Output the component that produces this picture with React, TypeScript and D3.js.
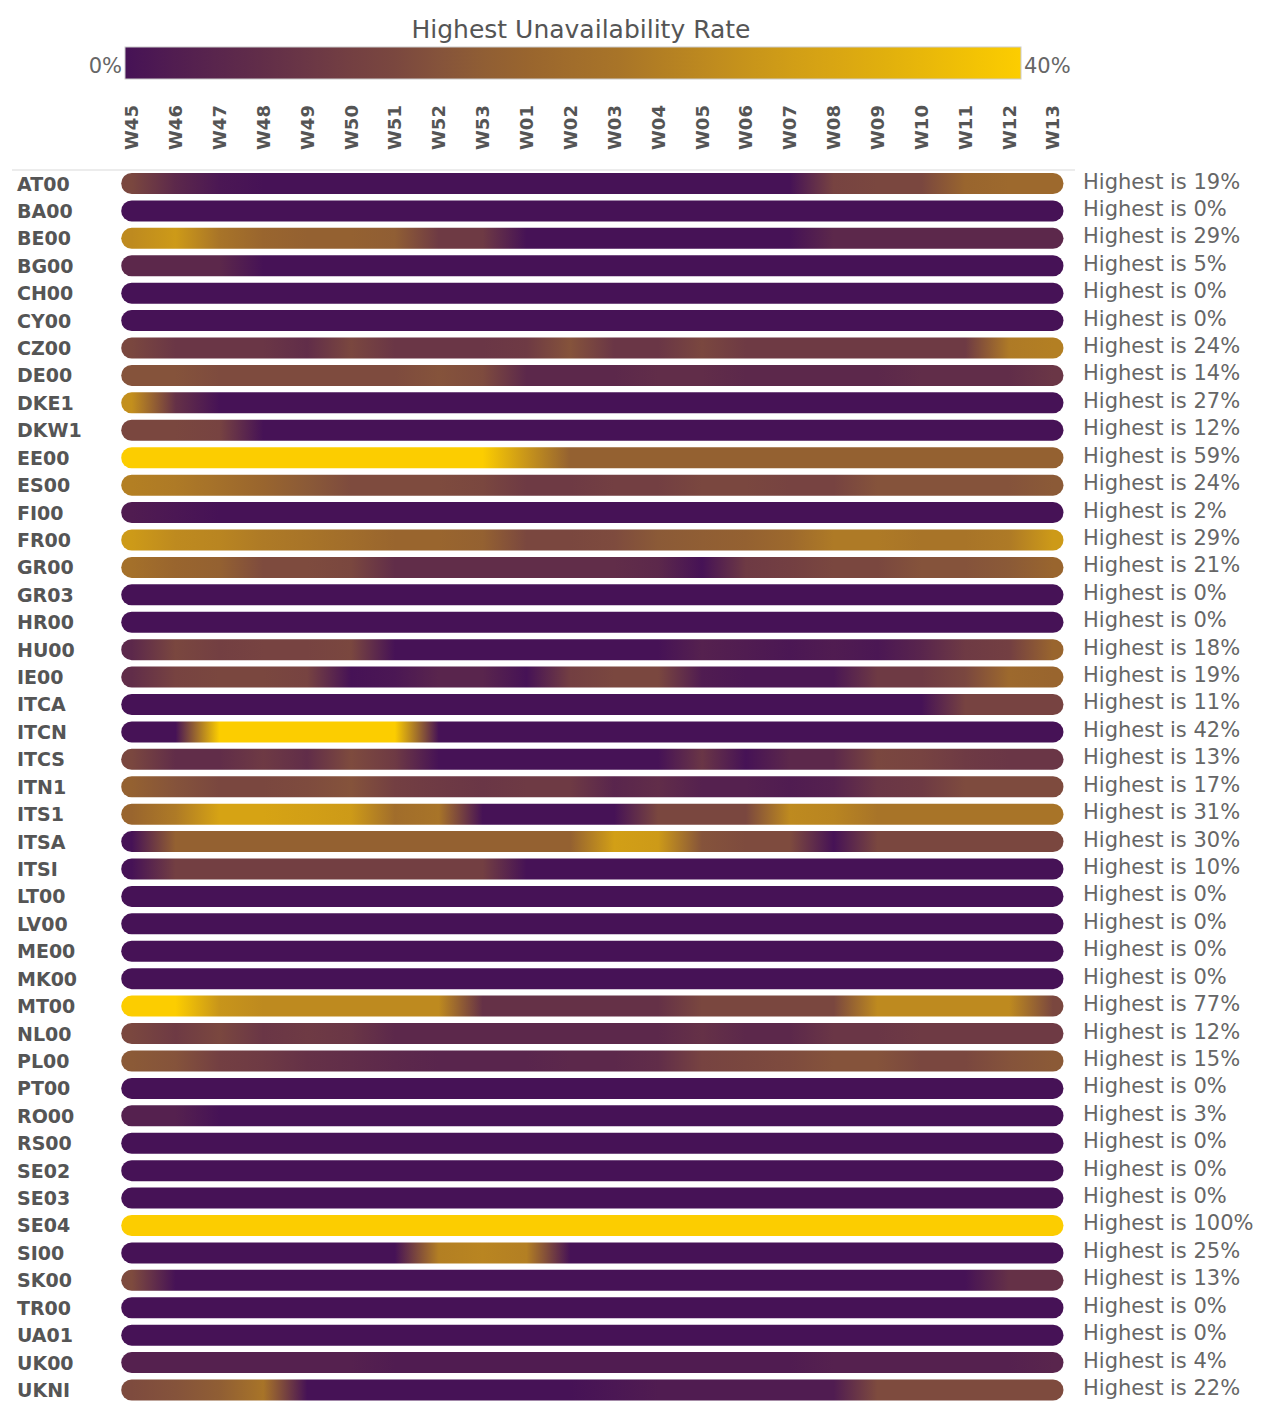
import * as d3 from "d3";

const weeks = [
  "W45", "W46", "W47", "W48", "W49", "W50", "W51", "W52", "W53", "W01", "W02",
  "W03", "W04", "W05", "W06", "W07", "W08", "W09", "W10", "W11", "W12", "W13",
];

const countries = [
  "AT00", "BA00", "BE00", "BG00", "CH00", "CY00", "CZ00", "DE00", "DKE1", "DKW1",
  "EE00", "ES00", "FI00", "FR00", "GR00", "GR03", "HR00", "HU00", "IE00", "ITCA",
  "ITCN", "ITCS", "ITN1", "ITS1", "ITSA", "ITSI", "LT00", "LV00", "ME00", "MK00",
  "MT00", "NL00", "PL00", "PT00", "RO00", "RS00", "SE02", "SE03", "SE04", "SI00",
  "SK00", "TR00", "UA01", "UK00", "UKNI",
];

// unavailability rate (%) per country (rows, same order as countries) and week
const rates: number[][] = [
  [12, 5, 1, 0, 0, 0, 0, 0, 0, 0, 0, 0, 0, 0, 0, 0, 11, 12, 12, 18, 19, 19], // AT00
  [0, 0, 0, 0, 0, 0, 0, 0, 0, 0, 0, 0, 0, 0, 0, 0, 0, 0, 0, 0, 0, 0], // BA00
  [26, 29, 22, 18, 17, 17, 16, 9, 9, 0, 0, 0, 0, 0, 0, 0, 5, 5, 5, 5, 5, 5], // BE00
  [5, 5, 5, 0, 0, 0, 0, 0, 0, 0, 0, 0, 0, 0, 0, 0, 0, 0, 0, 0, 0, 0], // BG00
  [0, 0, 0, 0, 0, 0, 0, 0, 0, 0, 0, 0, 0, 0, 0, 0, 0, 0, 0, 0, 0, 0], // CH00
  [0, 0, 0, 0, 0, 0, 0, 0, 0, 0, 0, 0, 0, 0, 0, 0, 0, 0, 0, 0, 0, 0], // CY00
  [12, 8, 8, 8, 6, 12, 8, 8, 8, 9, 14, 8, 8, 12, 9, 9, 9, 9, 9, 9, 23, 24], // CZ00
  [14, 14, 13, 13, 13, 13, 13, 14, 13, 5, 5, 5, 6, 6, 5, 5, 5, 5, 6, 6, 6, 8], // DE00
  [27, 7, 0, 0, 0, 0, 0, 0, 0, 0, 0, 0, 0, 0, 0, 0, 0, 0, 0, 0, 0, 0], // DKE1
  [12, 12, 11, 0, 0, 0, 0, 0, 0, 0, 0, 0, 0, 0, 0, 0, 0, 0, 0, 0, 0, 0], // DKW1
  [45, 50, 59, 52, 48, 44, 46, 42, 41, 28, 17, 17, 17, 17, 17, 17, 17, 17, 17, 17, 17, 17], // EE00
  [24, 23, 21, 18, 15, 13, 13, 13, 12, 9, 9, 10, 10, 12, 12, 11, 11, 14, 14, 14, 14, 15], // ES00
  [2, 1, 0, 0, 0, 0, 0, 0, 0, 0, 0, 0, 0, 0, 0, 0, 0, 0, 0, 0, 0, 0], // FI00
  [29, 26, 25, 23, 22, 20, 18, 18, 17, 12, 12, 13, 15, 16, 17, 19, 23, 23, 22, 22, 23, 29], // FR00
  [21, 18, 17, 13, 13, 12, 6, 6, 6, 6, 6, 6, 5, 0, 9, 10, 12, 12, 14, 14, 15, 18], // GR00
  [0, 0, 0, 0, 0, 0, 0, 0, 0, 0, 0, 0, 0, 0, 0, 0, 0, 0, 0, 0, 0, 0], // GR03
  [0, 0, 0, 0, 0, 0, 0, 0, 0, 0, 0, 0, 0, 0, 0, 0, 0, 0, 0, 0, 0, 0], // HR00
  [5, 12, 10, 11, 11, 12, 0, 0, 0, 0, 0, 0, 0, 3, 2, 1, 2, 1, 4, 9, 10, 18], // HU00
  [6, 11, 12, 12, 11, 0, 1, 4, 4, 0, 10, 12, 12, 2, 1, 1, 1, 9, 9, 12, 19, 18], // IE00
  [0, 0, 0, 0, 0, 0, 0, 0, 0, 0, 0, 0, 0, 0, 0, 0, 0, 0, 0, 11, 11, 11], // ITCA
  [0, 0, 41, 42, 40, 41, 40, 0, 0, 0, 0, 0, 0, 0, 0, 0, 0, 0, 0, 0, 0, 0], // ITCN
  [12, 6, 6, 9, 6, 13, 9, 0, 0, 0, 0, 0, 0, 8, 0, 5, 5, 12, 11, 9, 8, 8], // ITCS
  [17, 14, 12, 12, 13, 14, 10, 9, 8, 9, 9, 4, 6, 3, 3, 2, 3, 8, 9, 13, 13, 13], // ITN1
  [18, 23, 31, 31, 30, 29, 20, 22, 0, 0, 0, 0, 12, 12, 12, 26, 25, 22, 22, 22, 22, 22], // ITS1
  [0, 17, 17, 17, 17, 17, 17, 17, 17, 17, 17, 30, 29, 14, 13, 13, 0, 12, 12, 12, 12, 12], // ITSA
  [0, 10, 10, 10, 10, 10, 10, 10, 10, 0, 0, 0, 0, 0, 0, 0, 0, 0, 0, 0, 0, 0], // ITSI
  [0, 0, 0, 0, 0, 0, 0, 0, 0, 0, 0, 0, 0, 0, 0, 0, 0, 0, 0, 0, 0, 0], // LT00
  [0, 0, 0, 0, 0, 0, 0, 0, 0, 0, 0, 0, 0, 0, 0, 0, 0, 0, 0, 0, 0, 0], // LV00
  [0, 0, 0, 0, 0, 0, 0, 0, 0, 0, 0, 0, 0, 0, 0, 0, 0, 0, 0, 0, 0, 0], // ME00
  [0, 0, 0, 0, 0, 0, 0, 0, 0, 0, 0, 0, 0, 0, 0, 0, 0, 0, 0, 0, 0, 0], // MK00
  [77, 40, 28, 26, 26, 26, 26, 26, 7, 7, 7, 7, 7, 12, 12, 12, 12, 26, 26, 26, 26, 12], // MT00
  [12, 9, 12, 8, 9, 8, 5, 5, 5, 5, 5, 5, 5, 7, 5, 5, 8, 8, 9, 9, 9, 9], // NL00
  [15, 14, 10, 9, 7, 6, 5, 4, 4, 4, 5, 5, 6, 11, 12, 13, 14, 14, 12, 12, 14, 15], // PL00
  [0, 0, 0, 0, 0, 0, 0, 0, 0, 0, 0, 0, 0, 0, 0, 0, 0, 0, 0, 0, 0, 0], // PT00
  [3, 3, 0, 0, 0, 0, 0, 0, 0, 0, 0, 0, 0, 0, 0, 0, 0, 0, 0, 0, 0, 0], // RO00
  [0, 0, 0, 0, 0, 0, 0, 0, 0, 0, 0, 0, 0, 0, 0, 0, 0, 0, 0, 0, 0, 0], // RS00
  [0, 0, 0, 0, 0, 0, 0, 0, 0, 0, 0, 0, 0, 0, 0, 0, 0, 0, 0, 0, 0, 0], // SE02
  [0, 0, 0, 0, 0, 0, 0, 0, 0, 0, 0, 0, 0, 0, 0, 0, 0, 0, 0, 0, 0, 0], // SE03
  [100, 100, 100, 100, 100, 100, 100, 100, 100, 100, 100, 100, 100, 100, 100, 100, 100, 100, 100, 100, 100, 100], // SE04
  [0, 0, 0, 0, 0, 0, 0, 24, 25, 24, 0, 0, 0, 0, 0, 0, 0, 0, 0, 0, 0, 0], // SI00
  [13, 0, 0, 0, 0, 0, 0, 0, 0, 0, 0, 0, 0, 0, 0, 0, 0, 0, 0, 0, 7, 7], // SK00
  [0, 0, 0, 0, 0, 0, 0, 0, 0, 0, 0, 0, 0, 0, 0, 0, 0, 0, 0, 0, 0, 0], // TR00
  [0, 0, 0, 0, 0, 0, 0, 0, 0, 0, 0, 0, 0, 0, 0, 0, 0, 0, 0, 0, 0, 0], // UA01
  [3, 3, 3, 3, 3, 3, 2, 2, 2, 2, 2, 2, 2, 2, 2, 2, 3, 3, 3, 3, 3, 4], // UK00
  [13, 14, 16, 22, 0, 0, 0, 0, 0, 0, 0, 1, 2, 2, 2, 2, 2, 13, 13, 13, 13, 13], // UKNI
];

// colour ramp, 0% -> 40% (clamped above)
const rampStops = [0, 3, 5, 10, 13, 15, 18, 22, 25, 30, 35, 40];
const rampColors = [
  "#461256", "#55214f", "#5c284b", "#733f42", "#7e4b3e", "#8b5a37",
  "#99652e", "#a87428", "#b98521", "#d29f16", "#e5b40b", "#fccd00",
];

const W = 1277;
const H = 1403;
const FONT = "'DejaVu Sans', sans-serif";
const BAR_H = 21;

export default function App() {
  const color = d3
    .scaleLinear<string>()
    .domain(rampStops)
    .range(rampColors)
    .interpolate(d3.interpolateRgb)
    .clamp(true);

  const x = d3.scalePoint<string>().domain(weeks).range([131.7, 1053]);
  const y = d3.scalePoint<string>().domain(countries).range([183.5, 1390]);

  const x0 = x(weeks[0])!;
  const x1 = x(weeks[weeks.length - 1])!;

  const legend = { x: 125, y: 47, w: 896, h: 32 };
  const legendTicks = d3.range(0, 41, 2);

  return (
    <svg
      width={W}
      height={H}
      style={{ position: "absolute", left: 0, top: 0, background: "#fff" }}
      fontFamily={FONT}
    >
      <defs>
        <linearGradient id="legend-grad" x1="0" x2="1" y1="0" y2="0">
          {legendTicks.map((v) => (
            <stop key={v} offset={v / 40} stopColor={color(v)} />
          ))}
        </linearGradient>
        {countries.map((c, ri) => (
          <linearGradient
            key={c}
            id={`grad-${c}`}
            gradientUnits="userSpaceOnUse"
            x1={x0}
            x2={x1}
            y1={0}
            y2={0}
          >
            {rates[ri].map((v, i) => (
              <stop
                key={i}
                offset={(x(weeks[i])! - x0) / (x1 - x0)}
                stopColor={color(v)}
              />
            ))}
          </linearGradient>
        ))}
      </defs>

      {/* legend */}
      <text x={581} y={38} textAnchor="middle" fontSize={25} fill="#555">
        Highest Unavailability Rate
      </text>
      <rect
        x={legend.x}
        y={legend.y}
        width={legend.w}
        height={legend.h}
        fill="url(#legend-grad)"
        stroke="#ccc"
        strokeWidth={1}
      />
      <text x={legend.x - 3} y={73} textAnchor="end" fontSize={21} fill="#666">
        0%
      </text>
      <text x={legend.x + legend.w + 3} y={73} fontSize={21} fill="#666">
        40%
      </text>

      {/* week headers */}
      {weeks.map((w) => (
        <text
          key={w}
          transform={`translate(${x(w)},150) rotate(-90)`}
          dy="0.36em"
          fontSize={18}
          fontWeight="bold"
          fill="#555"
        >
          {w}
        </text>
      ))}
      <line x1={12} x2={1075} y1={170} y2={170} stroke="#e6e6e6" strokeWidth={1.5} />

      {/* rows */}
      {countries.map((c, ri) => {
        const cy = y(c)!;
        const peak = d3.max(rates[ri])!;
        return (
          <g key={c}>
            <text x={17} y={cy + 7} fontSize={19} fontWeight="bold" fill="#555">
              {c}
            </text>
            <rect
              x={x0 - BAR_H / 2}
              y={cy - BAR_H / 2}
              width={x1 - x0 + BAR_H}
              height={BAR_H}
              rx={BAR_H / 2}
              fill={`url(#grad-${c})`}
            />
            <text x={1083} y={cy + 5} fontSize={21} fill="#666">
              {`Highest is ${peak}%`}
            </text>
          </g>
        );
      })}
    </svg>
  );
}
